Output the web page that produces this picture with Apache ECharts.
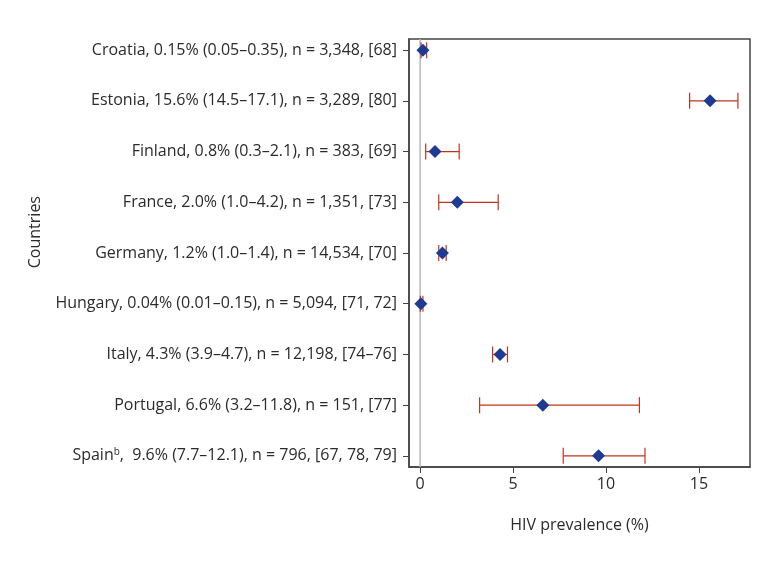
<!DOCTYPE html>
<html><head><meta charset="utf-8">
<script src="https://cdn.jsdelivr.net/npm/echarts@6/dist/echarts.min.js"></script>
<style>html,body{margin:0;padding:0;background:#fff}#c{width:780px;height:567px}</style>
</head><body><div id="c"></div>
<script>
const countries = ['Croatia','Estonia','Finland','France','Germany','Hungary','Italy','Portugal','Spain'];
const labelTexts = [
  'Croatia, 0.15% (0.05–0.35), n = 3,348, [68]',
  'Estonia, 15.6% (14.5–17.1), n = 3,289, [80]',
  'Finland, 0.8% (0.3–2.1), n = 383, [69]',
  'France, 2.0% (1.0–4.2), n = 1,351, [73]',
  'Germany, 1.2% (1.0–1.4), n = 14,534, [70]',
  'Hungary, 0.04% (0.01–0.15), n = 5,094, [71, 72]',
  'Italy, 4.3% (3.9–4.7), n = 12,198, [74–76]',
  'Portugal, 6.6% (3.2–11.8), n = 151, [77]',
  '{b|Spain}{sup|b}{b|,  9.6% (7.7–12.1), n = 796, [67, 78, 79]}'
];
const prevalence = [0.15, 15.6, 0.8, 2.0, 1.2, 0.04, 4.3, 6.6, 9.6];
const ciLow = [0.05, 14.5, 0.3, 1.0, 1.0, 0.01, 3.9, 3.2, 7.7];
const ciHigh = [0.35, 17.1, 2.1, 4.2, 1.4, 0.15, 4.7, 11.8, 12.1];
const xTicks = [0, 5, 10, 15];

const FONT = 'Open Sans';
const FS = 16;
const TXT = '#2b2b2b';
const chart = echarts.init(document.getElementById('c'));
const idx = countries.map((_, i) => i);
chart.setOption({
  animation: false,
  grid: {left: 409, right: 30, top: 39, bottom: 100, show: true, borderColor: '#444', borderWidth: 1.5, containLabel: false},
  xAxis: {
    type: 'value', min: -0.6, max: 17.75,
    name: 'HIV prevalence (%)', nameLocation: 'middle', nameGap: 50,
    nameTextStyle: {fontFamily: FONT, fontSize: FS, color: TXT},
    axisLine: {show: true, onZero: false, lineStyle: {color: '#444', width: 1.5}},
    axisTick: {show: true, length: 6, customValues: xTicks, lineStyle: {color: '#444'}},
    axisLabel: {customValues: xTicks, fontFamily: FONT, fontSize: FS, color: TXT, margin: 9},
    splitLine: {show: false}
  },
  yAxis: {
    type: 'value', min: -0.22, max: 8.22, inverse: true,
    axisLine: {show: true, onZero: false, lineStyle: {color: '#444', width: 1.5}},
    axisTick: {show: true, length: 6, customValues: idx, lineStyle: {color: '#444'}},
    axisLabel: {
      customValues: idx, margin: 12,
      formatter: v => labelTexts[Math.round(v)] || '',
      fontFamily: FONT, fontSize: FS, color: TXT,
      rich: {b: {fontFamily: FONT, fontSize: FS, color: TXT},
             sup: {fontFamily: FONT, fontSize: 10, color: TXT, verticalAlign: 'top', padding: [0,0,7,0]}}
    },
    splitLine: {show: false}
  },
  graphic: [{
    type: 'text', left: 27, top: 196, rotation: Math.PI/2,
    style: {text: 'Countries', font: FS + 'px "Open Sans"', fill: TXT}
  }],
  series: [
    {
      type: 'line', data: [[0, -0.22], [0, 8.22]], symbol: 'none', silent: true,
      lineStyle: {color: '#b8b8b8', width: 1.5}, z: 1
    },
    {
      type: 'custom', z: 2,
      data: idx.map(i => [ciLow[i], ciHigh[i], i]),
      renderItem: (params, api) => {
        const y = api.value(2);
        const p1 = api.coord([api.value(0), y]);
        const p2 = api.coord([api.value(1), y]);
        const h = 8;
        const st = {stroke: '#c0341d', lineWidth: 1.2};
        return {type: 'group', children: [
          {type: 'line', shape: {x1: p1[0], y1: p1[1], x2: p2[0], y2: p2[1]}, style: st},
          {type: 'line', shape: {x1: p1[0], y1: p1[1]-h, x2: p1[0], y2: p1[1]+h}, style: st},
          {type: 'line', shape: {x1: p2[0], y1: p2[1]-h, x2: p2[0], y2: p2[1]+h}, style: st}
        ]};
      }
    },
    {
      type: 'scatter', z: 3, symbol: 'diamond', symbolSize: 13,
      data: idx.map(i => [prevalence[i], i]),
      itemStyle: {color: '#1f3a93', opacity: 1}
    }
  ]
});
</script></body></html>
